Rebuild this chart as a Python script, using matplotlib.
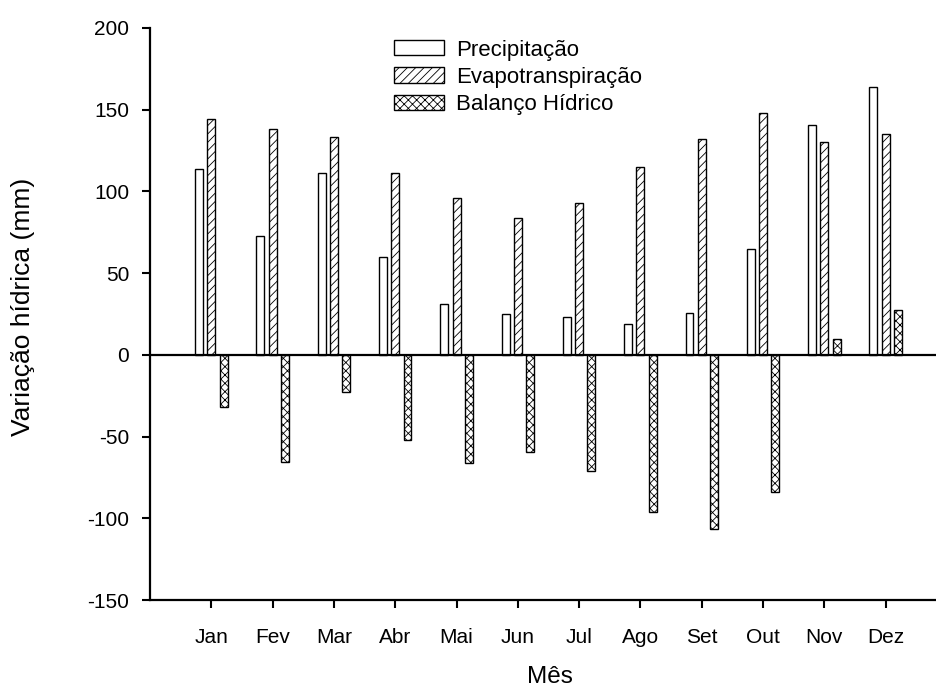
import matplotlib
matplotlib.use("Agg")
import matplotlib.pyplot as plt
import numpy as np

months = ["Jan", "Fev", "Mar", "Abr", "Mai", "Jun", "Jul", "Ago", "Set", "Out", "Nov", "Dez"]
precipitacao = [113.4, 72.9, 111.5, 59.8, 30.8, 24.7, 22.9, 18.8, 25.3, 64.5, 140.5, 163.8]
evapotranspiracao = [144.1, 138.0, 133.3, 111.5, 96.2, 83.5, 92.9, 114.8, 131.9, 147.7, 130.5, 135.2]
balanco = [-31.9, -65.6, -22.7, -52.3, -66.2, -59.7, -71.1, -96.2, -106.8, -84.2, 9.4, 27.3]
yticks = [-150, -100, -50, 0, 50, 100, 150, 200]

plt.rcParams['font.family'] = ['Liberation Sans', 'DejaVu Sans']
plt.rcParams['hatch.linewidth'] = 0.6

fig = plt.figure(figsize=(9.37, 6.9), dpi=100)
ax = fig.add_axes([150/937, 90/690, 797/937, 572.1/690])

x = np.arange(len(months))
w = 0.13
off = 0.2
ax.bar(x - off, precipitacao, w, facecolor='white', edgecolor='black', linewidth=1.0, label='Precipitação')
ax.bar(x, evapotranspiracao, w, facecolor='white', edgecolor='black', linewidth=1.0, hatch='////', label='Evapotranspiração')
ax.bar(x + off, balanco, w, facecolor='white', edgecolor='black', linewidth=1.0, hatch='xxxx', label='Balanço Hídrico')

ax.axhline(0, color='black', linewidth=1.6, zorder=5)

ax.set_xlim(-1, 12)
ax.set_ylim(-150, 200)
ax.set_xticks(x)
ax.set_xticklabels(months)
ax.set_yticks(yticks)
ax.set_yticklabels([str(v) for v in yticks])

for s in ['top', 'right']:
    ax.spines[s].set_visible(False)
for s in ['left', 'bottom']:
    ax.spines[s].set_linewidth(1.6)

ax.tick_params(axis='both', direction='out', length=6, width=1.5, labelsize=15)
ax.tick_params(axis='y', pad=9)
ax.tick_params(axis='x', pad=14)

ax.set_ylabel('Variação hídrica (mm)', fontsize=19)
ax.yaxis.set_label_coords(-0.1443, 0.512)
ax.set_xlabel('Mês', fontsize=17.5)
ax.xaxis.set_label_coords(0.502, -0.1145)

leg = ax.legend(loc='upper left', bbox_to_anchor=(0.295, 0.995), frameon=False, fontsize=16,
                handlelength=2.25, handleheight=0.68, handletextpad=0.55, labelspacing=0.28, borderaxespad=0)

fig.savefig('out.png', dpi=100)
